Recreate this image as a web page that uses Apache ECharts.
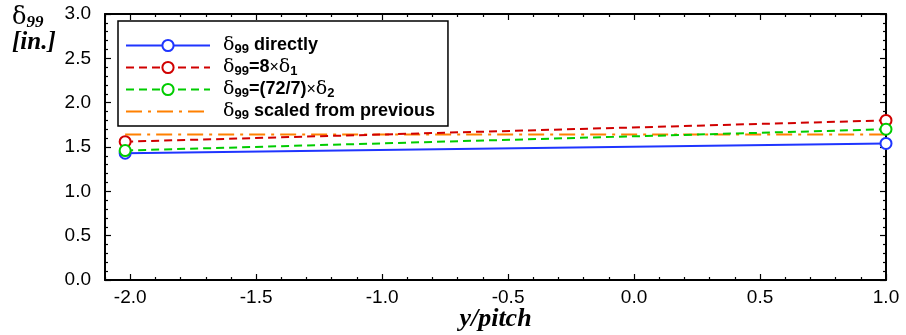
<!DOCTYPE html>
<html>
<head>
<meta charset="utf-8">
<script src="https://cdn.jsdelivr.net/npm/echarts@6/dist/echarts.min.js"></script>
<style>html,body{margin:0;padding:0;background:#fff}#c{width:906px;height:335px}</style>
</head>
<body>
<div id="c"></div>
<script>
// ---- data ----
const xPositions = [-2.02, 1.0];
const delta99Directly = [1.43, 1.54];
const delta99From1 = [1.56, 1.80];
const delta99From2 = [1.46, 1.70];
const delta99Scaled = [1.64, 1.64];
const seriesNames = ['directly', 'from1', 'from2', 'scaled'];
const xMajorTicks = [-2.0, -1.5, -1.0, -0.5, 0.0, 0.5, 1.0];
const xMinorTicks = [-2.1, -1.9, -1.8, -1.7, -1.6, -1.4, -1.3, -1.2, -1.1, -0.9, -0.8, -0.7, -0.6, -0.4, -0.3, -0.2, -0.1, 0.1, 0.2, 0.3, 0.4, 0.6, 0.7, 0.8, 0.9];
const yTickLabels = ['0.0', '0.5', '1.0', '1.5', '2.0', '2.5', '3.0'];

const legendText = {
  directly: '{d|δ}{s|99}{t| directly}',
  from1: '{d|δ}{s|99}{t|=8}{x|×}{d|δ}{s|1}',
  from2: '{d|δ}{s|99}{t|=(72/7)}{x|×}{d|δ}{s|2}',
  scaled: '{d|δ}{s|99}{t| scaled from previous}'
};

const chart = echarts.init(document.getElementById('c'), null, {renderer: 'canvas'});
const axisCol = '#000';
function xAxisDef(pos, major, labels) {
  return {
    type: 'value', min: -2.1, max: 1.0, position: pos, gridIndex: 0,
    axisLine: {show: major, onZero: false, lineStyle: {color: axisCol, width: 2}},
    axisTick: {show: true, inside: true, length: major ? 6 : 3, customValues: major ? xMajorTicks : xMinorTicks,
      lineStyle: {color: axisCol, width: 1.2}},
    axisLabel: labels ? {show: true, customValues: xMajorTicks, formatter: v => v.toFixed(1), margin: 8,
      fontFamily: 'Liberation Sans', fontSize: 19, color: '#000'} : {show: false},
    splitLine: {show: false},
    name: labels ? 'y/pitch' : '', nameLocation: 'middle', nameGap: 26, nameMoveOverlap: false,
    nameTextStyle: {fontFamily: 'Liberation Serif', fontStyle: 'italic', fontWeight: 'bold', fontSize: 26, color: '#000'}
  };
}
function yAxisDef(pos, labels) {
  return {
    type: 'value', min: 0, max: 3, interval: 0.5, position: pos,
    axisLine: {show: true, onZero: false, lineStyle: {color: axisCol, width: 2}},
    axisTick: {show: true, inside: true, length: 6, lineStyle: {color: axisCol, width: 1.2}},
    minorTick: {show: true, splitNumber: 5, length: 3, lineStyle: {color: axisCol, width: 1.2}},
    axisLabel: labels ? {show: true, margin: 14, fontFamily: 'Liberation Sans', fontSize: 19, color: '#000',
      formatter: v => yTickLabels[Math.round(v / 0.5)]} : {show: false},
    splitLine: {show: false}, minorSplitLine: {show: false}
  };
}
const pts = arr => xPositions.map((x, i) => [x, arr[i]]);
const sym = {symbol: 'emptyCircle', symbolSize: 11};
const option = {
  animation: false,
  grid: {left: 105, right: 20, top: 14, bottom: 55, containLabel: false, outerBoundsMode: 'none'},
  xAxis: [xAxisDef('bottom', true, true), xAxisDef('bottom', false, false), xAxisDef('top', true, false), xAxisDef('top', false, false)],
  yAxis: [yAxisDef('left', true), yAxisDef('right', false)],
  legend: {
    orient: 'vertical', left: 118, top: 21,
    padding: [15, 13, 4, 7], itemGap: 2, itemWidth: 84, itemHeight: 14,
    borderColor: '#000', borderWidth: 1.5, backgroundColor: '#fff',
    data: seriesNames.map(n => n === 'scaled' ? {name: n, itemStyle: {opacity: 0}} : n),
    formatter: n => legendText[n],
    textStyle: {
      padding: [0, 0, 0, 8],
      rich: {
        d: {fontFamily: 'DejaVu Serif', fontSize: 19, color: '#000', lineHeight: 21},
        s: {fontFamily: 'Liberation Sans', fontWeight: 'bold', fontSize: 13, color: '#000', lineHeight: 6, verticalAlign: 'bottom'},
        t: {fontFamily: 'Liberation Sans', fontWeight: 'bold', fontSize: 18, color: '#000', lineHeight: 21},
        x: {fontFamily: 'Liberation Sans', fontSize: 16, color: '#000', lineHeight: 21}
      }
    }
  },
  graphic: [{
    type: 'text', left: 12, top: 6,
    style: {
      text: '{d|δ}{s|99}\n{t|[in.]}',
      rich: {
        d: {fontFamily: 'DejaVu Serif', fontSize: 24, fill: '#000', lineHeight: 27},
        s: {fontFamily: 'Liberation Serif', fontStyle: 'italic', fontWeight: 'bold', fontSize: 17, fill: '#000', lineHeight: 6, verticalAlign: 'bottom'},
        t: {fontFamily: 'Liberation Serif', fontStyle: 'italic', fontWeight: 'bold', fontSize: 25, fill: '#000', lineHeight: 22}
      }
    }
  }],
  series: [
    Object.assign({name: 'directly', type: 'line', data: pts(delta99Directly), z: 3,
      lineStyle: {color: '#1f35ff', width: 2, type: 'solid'}, itemStyle: {color: '#1f35ff', borderWidth: 1.5}}, sym),
    Object.assign({name: 'from1', type: 'line', data: pts(delta99From1), z: 4,
      lineStyle: {color: '#d00000', width: 2, type: [8, 5]}, itemStyle: {color: '#d00000', borderWidth: 1.5}}, sym),
    Object.assign({name: 'from2', type: 'line', data: pts(delta99From2), z: 5,
      lineStyle: {color: '#00cc00', width: 2, type: [8, 5]}, itemStyle: {color: '#00cc00', borderWidth: 1.5}}, sym),
    {name: 'scaled', type: 'line', data: pts(delta99Scaled), z: 2, symbol: 'none', showSymbol: false,
      lineStyle: {color: '#ff8000', width: 2, type: [16, 6, 3, 6]}, itemStyle: {color: '#ff8000'}}
  ]
};
chart.setOption(option);
</script>
</body>
</html>
